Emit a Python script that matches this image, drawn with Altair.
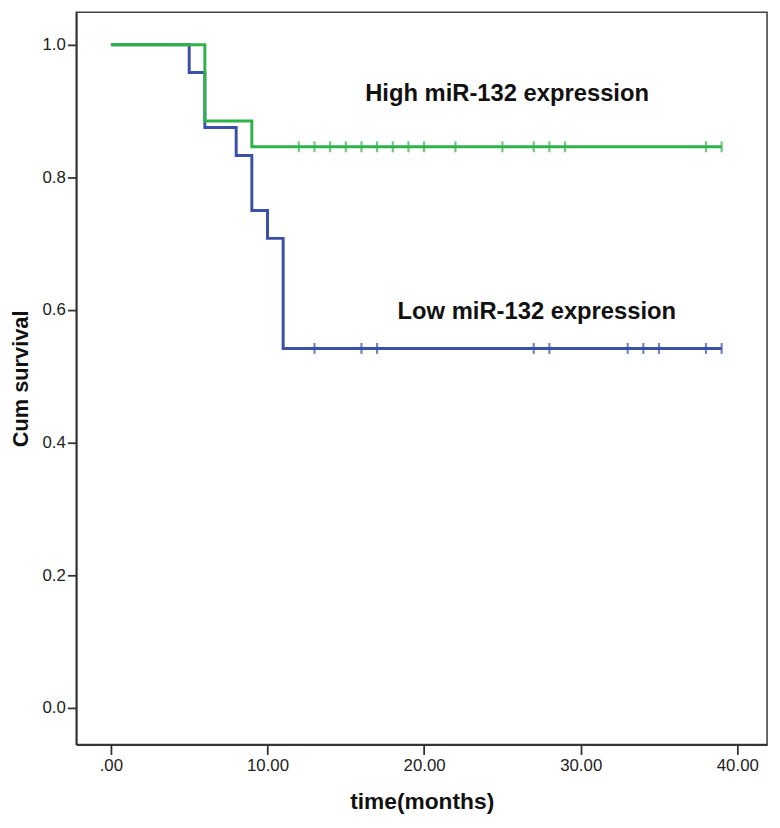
import altair as alt
import pandas as pd

# Kaplan-Meier step points (time in months, cumulative survival)
low_times = [0, 5, 6, 8, 9, 10, 11, 39]
low_surv = [1.0, 0.958, 0.875, 0.833, 0.750, 0.708, 0.542, 0.542]
high_times = [0, 6, 9, 39]
high_surv = [1.0, 0.885, 0.846, 0.846]

# censored observations
low_censor = [13, 16, 17, 27, 28, 33, 34, 35, 38, 39]
low_censor_surv = 0.542
high_censor = [12, 13, 14, 15, 16, 17, 18, 19, 20, 22, 25, 27, 28, 29, 38, 39]
high_censor_surv = 0.846

labels = ["High miR-132 expression", "Low miR-132 expression"]
label_x = [25.3, 27.2]
label_y = [0.915, 0.587]

x_ticks = [0, 10, 20, 30, 40]
y_ticks = [0.0, 0.2, 0.4, 0.6, 0.8, 1.0]

GREEN = "#2eb34a"
BLUE = "#3b50a8"

steps = pd.concat([
    pd.DataFrame({"time": low_times, "surv": low_surv, "group": "Low", "ord": 0}),
    pd.DataFrame({"time": high_times, "surv": high_surv, "group": "High", "ord": 1}),
])
cens = pd.concat([
    pd.DataFrame({"time": low_censor, "surv": low_censor_surv, "group": "Low"}),
    pd.DataFrame({"time": high_censor, "surv": high_censor_surv, "group": "High"}),
])
txt = pd.DataFrame({"label": labels, "x": label_x, "y": label_y})

xscale = alt.Scale(domain=[-2.21, 41.9], nice=False, zero=False)
yscale = alt.Scale(domain=[-0.0552, 1.049], nice=False, zero=False)
cscale = alt.Scale(domain=["Low", "High"], range=[BLUE, GREEN])

xaxis = alt.Axis(
    title="time(months)", values=x_ticks, grid=False,
    labelExpr="datum.value == 0 ? '.00' : format(datum.value, '.2f')",
    tickSize=10, labelPadding=3, titlePadding=18, titleFontSize=23,
)
yaxis = alt.Axis(
    title="Cum survival", values=y_ticks, grid=False, format=".1f",
    tickSize=9, labelPadding=2, titlePadding=10, titleFontSize=22,
)

lines = alt.Chart(steps).mark_line(interpolate="step-after", strokeWidth=3, clip=True).encode(
    x=alt.X("time:Q", scale=xscale, axis=xaxis),
    y=alt.Y("surv:Q", scale=yscale, axis=yaxis),
    color=alt.Color("group:N", scale=cscale, legend=None),
    detail="group:N",
    order="ord:Q",
)
low_lines = lines.transform_filter("datum.group == 'Low'")
high_lines = lines.transform_filter("datum.group == 'High'")

ticks = alt.Chart(cens).mark_tick(orient="vertical", size=11, thickness=2.2).encode(
    x=alt.X("time:Q", scale=xscale),
    y=alt.Y("surv:Q", scale=yscale),
    color=alt.Color("group:N", scale=cscale, legend=None),
)

text = alt.Chart(txt).mark_text(
    font="Liberation Sans", fontSize=24, fontWeight="bold", color="#111111",
    align="center", baseline="alphabetic",
).encode(
    x=alt.X("x:Q", scale=xscale),
    y=alt.Y("y:Q", scale=yscale),
    text="label:N",
)

chart = alt.layer(low_lines, high_lines, ticks, text).properties(
    width=698, height=740,
    autosize=alt.AutoSizeParams(type="none"),
    padding={"left": 69, "top": 0, "right": 5, "bottom": 72},
    background="white",
).configure_view(
    stroke="#444444", strokeWidth=1.6,
).configure_axis(
    labelFont="Liberation Sans", labelFontSize=17, labelColor="#222222",
    titleFont="Liberation Sans", titleFontWeight="bold", titleColor="#111111",
    domainColor="#333333", domainWidth=1.8, tickColor="#333333", tickWidth=1.8,
)

chart.save("out.html", embed_options={"renderer": "svg", "actions": False})
